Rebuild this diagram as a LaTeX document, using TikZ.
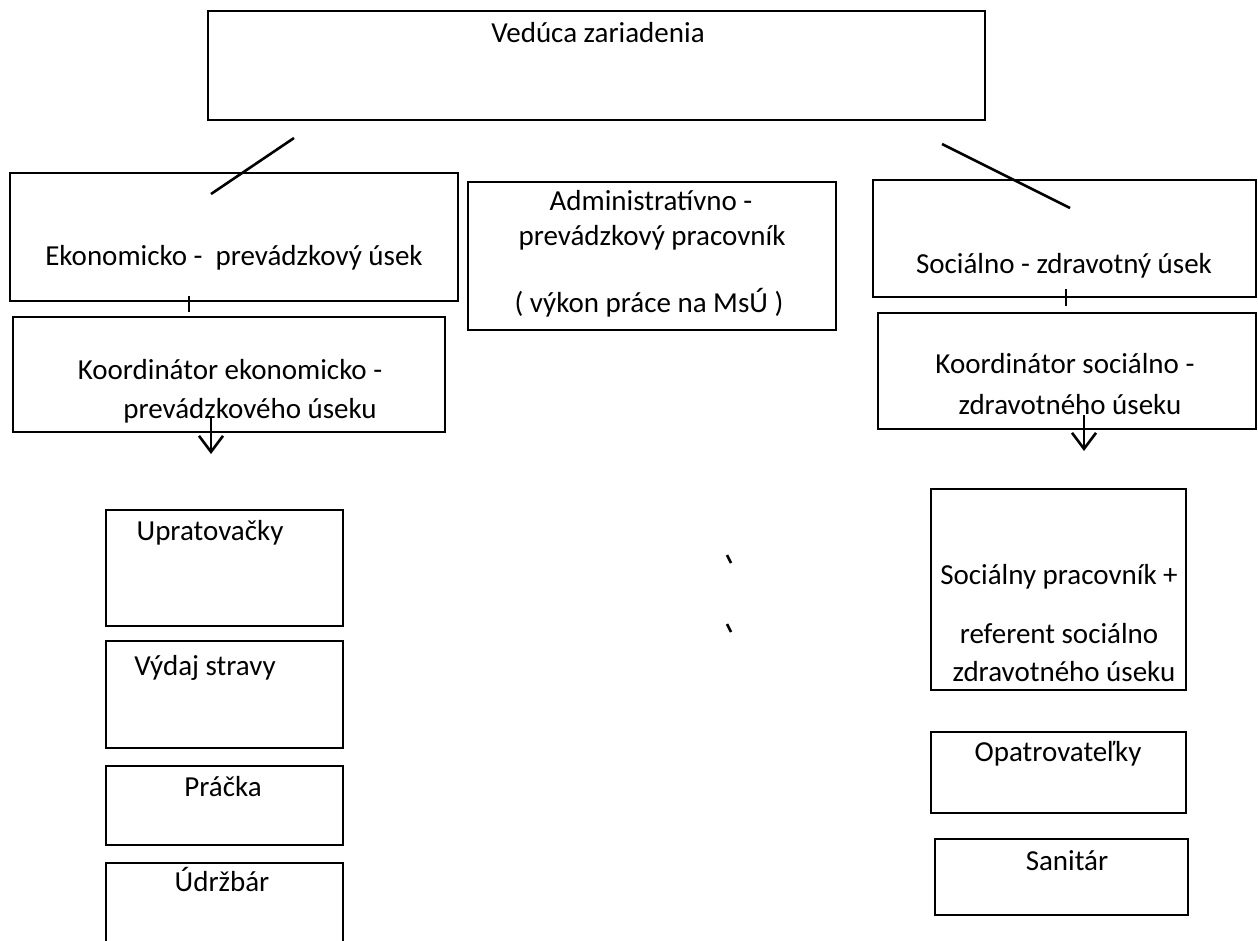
\documentclass[tikz,border=0pt]{standalone}
\usepackage{fontspec}
\setmainfont{Carlito}
\usetikzlibrary{arrows.meta}
\begin{document}
\begin{tikzpicture}[x=1pt,y=-1pt,
  box/.style={draw,line width=2.6pt,inner sep=0pt,outer sep=0pt,rectangle},
  txt/.style={anchor=base,inner sep=0pt,font=\fontsize{29}{39}\selectfont},
  ln/.style={line width=2.6pt},
  arr/.style={line width=2.6pt,-{Straight Barb[length=16pt,width=24pt,line width=2.6pt]}}]
\useasboundingbox (0,0) rectangle (1258,940);
% boxes
\node[box,minimum width=777pt,minimum height=109pt] (top) at (596.5,65.5) {};
\node[box,minimum width=448pt,minimum height=128pt] (ek) at (234,237) {};
\node[box,minimum width=368pt,minimum height=148pt] (adm) at (652,256) {};
\node[box,minimum width=383pt,minimum height=117pt] (soc) at (1064.5,238.5) {};
\node[box,minimum width=432pt,minimum height=115pt] (kek) at (229,374.5) {};
\node[box,minimum width=378pt,minimum height=116pt] (ksoc) at (1067,371) {};
\node[box,minimum width=237pt,minimum height=116pt] (upr) at (224.5,568) {};
\node[box,minimum width=237pt,minimum height=107pt] (vyd) at (224.5,694.5) {};
\node[box,minimum width=237pt,minimum height=79pt] (pra) at (224.5,805.5) {};
\node[box,minimum width=237pt,minimum height=97pt] (udr) at (224.5,911.5) {};
\node[box,minimum width=255pt,minimum height=201pt] (sp) at (1058.5,589.5) {};
\node[box,minimum width=255pt,minimum height=81pt] (opa) at (1058.5,772.5) {};
\node[box,minimum width=253pt,minimum height=76pt] (san) at (1061.5,877) {};
% texts
\node[txt] (ttop) at (598,42) {Vedúca zariadenia};
\node[txt] (tek) at (234,265) {Ekonomicko -~~prevádzkový úsek};
\node[txt] (tadm1) at (651,210) {Administratívno -};
\node[txt] (tadm2) at (652,245) {prevádzkový pracovník};
\node[txt] (tadm3) at (649,312) {( výkon práce na MsÚ )};
\node[txt] (tsoc) at (1064,273) {Sociálno - zdravotný úsek};
\node[txt] (tkek1) at (230,379) {Koordinátor ekonomicko -};
\node[txt] (tkek2) at (250,418) {prevádzkového úseku};
\node[txt] (tksoc1) at (1065,373) {Koordinátor sociálno -};
\node[txt] (tksoc2) at (1070,414) {zdravotného úseku};
\node[txt] (tupr) at (210,540) {Upratovačky};
\node[txt] (tvyd) at (205,675) {Výdaj stravy};
\node[txt] (tpra) at (223,796) {Práčka};
\node[txt] (tudr) at (222,891) {Údržbár};
\node[txt] (tsp1) at (1059,584) {Sociálny pracovník +};
\node[txt] (tsp2) at (1059,643) {referent sociálno};
\node[txt] (tsp3) at (1064,681) {zdravotného úseku};
\node[txt] (topa) at (1058,761) {Opatrovateľky};
\node[txt] (tsan) at (1067,870) {Sanitár};
% loose strokes
\coordinate (d1a) at (294,138); \coordinate (d1b) at (211,194);
\coordinate (d2a) at (942,144); \coordinate (d2b) at (1070,208);
\draw[ln] (d1a) -- (d1b);
\draw[ln] (d2a) -- (d2b);
\coordinate (k1a) at (189,296); \coordinate (k1b) at (189,312);
\coordinate (k2a) at (1066,289); \coordinate (k2b) at (1066,306);
\draw[ln] (k1a) -- (k1b);
\draw[ln] (k2a) -- (k2b);
\coordinate (a1s) at (211,418); \coordinate (a1e) at (211,454);
\coordinate (a2s) at (1084,415); \coordinate (a2e) at (1084,451);
\draw[arr] (a1s) -- (a1e);
\draw[arr] (a2s) -- (a2e);
\coordinate (b1a) at (727,555); \coordinate (b1b) at (731,563);
\coordinate (b2a) at (727,624); \coordinate (b2b) at (731,632);
\draw[ln] (b1a) -- (b1b);
\draw[ln] (b2a) -- (b2b);
\end{tikzpicture}
\end{document}
